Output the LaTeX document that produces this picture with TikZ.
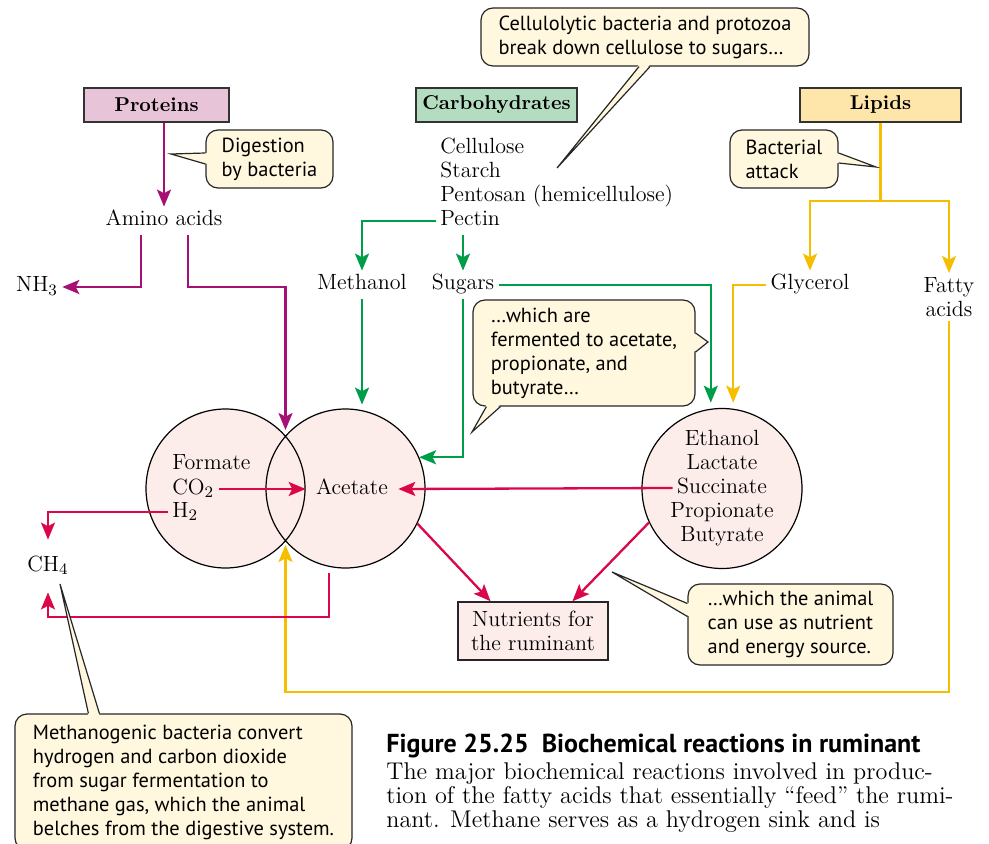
\documentclass[tikz,border=0pt]{standalone}
\usepackage{fontspec}
\usepackage{tikz}
\usetikzlibrary{arrows.meta,calc,positioning}
\newfontfamily\notefont{PT Sans}
\definecolor{protcol}{RGB}{166,16,116}
\definecolor{carbcol}{RGB}{0,158,72}
\definecolor{lipcol}{RGB}{246,190,0}
\definecolor{redcol}{RGB}{218,8,72}
\definecolor{protfill}{RGB}{232,196,216}
\definecolor{carbfill}{RGB}{180,220,192}
\definecolor{lipfill}{RGB}{254,230,170}
\definecolor{notefill}{RGB}{255,248,222}
\definecolor{poolfill}{RGB}{252,236,234}

\begin{document}
\begin{tikzpicture}[x=0.5pt,y=-0.5pt,>={Stealth[length=8.5pt,width=7pt,inset=1.8pt]}]
 \tikzstyle{every node}=[font=\fontsize{11}{12}\selectfont]
 \tikzstyle{lbl}=[inner sep=2pt,text height=7.5pt,text depth=2.5pt]
 \tikzstyle{headbox}=[draw=black!80,line width=0.7pt,inner xsep=2pt,minimum width=80.5pt,minimum height=17pt,font=\bfseries\fontsize{10}{12}\selectfont]
 \tikzstyle{note}=[draw=black!85,fill=notefill,line width=0.6pt,rounded corners=6pt,align=left,font=\notefont\fontsize{10.2}{12}\selectfont]
 \tikzstyle{tail}=[draw=black!85,line width=0.6pt]
 \tikzstyle{pool}=[circle,fill=poolfill,minimum size=79.5pt,inner sep=0pt]
 \tikzstyle{flow}=[->,line width=1.15pt]
 \useasboundingbox (0,0) rectangle (989,844);

 % the three food classes
 \node[headbox,fill=protfill,minimum width=72.5pt] (prot) at (156.5,105) {Proteins};
 \node[headbox,fill=carbfill] (carb) at (496.5,105) {Carbohydrates};
 \node[headbox,fill=lipfill] (lip) at (880.5,105) {Lipids};

 % products
 \node[lbl] (amino) at (164,221) {Amino acids};
 \node[lbl] (nh3) at (37,287) {NH$_3$};
 \node[lbl,anchor=west] (cellu) at (436,149) {Cellulose};
 \node[lbl,anchor=west] (starch) at (436,173) {Starch};
 \node[lbl,anchor=west] (pento) at (436,197) {Pentosan (hemicellulose)};
 \node[lbl,anchor=west] (pectin) at (436,221) {Pectin};
 \node[lbl] (meth) at (362,285) {Methanol};
 \node[lbl] (sug) at (463,285) {Sugars};
 \node[lbl] (glyc) at (810,285) {Glycerol};
 \node[align=center,inner sep=2pt] (fatty) at (949,297) {Fatty\\acids};

 % fermentation pools
 \node[pool] (formc) at (225.5,488.5) {};
 \node[pool] (acec) at (345.5,488.5) {};
 \node[pool,draw,line width=0.6pt,minimum size=80pt] (etc) at (722,488.5) {};
 \draw[line width=0.6pt] (formc.center) circle[radius=79.5] (acec.center) circle[radius=79.5];
 \coordinate (ovtop) at (285.5,436);
 \coordinate (ovbot) at (285.5,541);

 \node[lbl,anchor=west] (form) at (168,464) {Formate};
 \node[lbl,anchor=west] (co2) at (168,489) {CO$_2$};
 \node[lbl,anchor=west] (h2) at (168,512) {H$_2$};
 \node[lbl,inner sep=5pt] (ace) at (352,489) {Acetate};
 \node[lbl] (eth) at (722,440) {Ethanol};
 \node[lbl] (lac) at (722,464) {Lactate};
 \node[lbl] (suc) at (722,488) {Succinate};
 \node[lbl] (pro) at (722,512) {Propionate};
 \node[lbl] (but) at (722,536) {Butyrate};
 \node[lbl,inner ysep=8pt] (ch4) at (48,566) {CH$_4$};
 \node[draw=black!85,line width=0.7pt,fill=poolfill,align=center,minimum width=75pt,minimum height=29pt] (nutr) at (533,631) {Nutrients for\\the ruminant};

 % protein arrows
 \draw[flow,protcol] (prot.south -| amino.north) -- (amino.north);
 \draw[flow,protcol] ($(amino.south)+(-23,0)$) |- (nh3.east);
 \draw[flow,protcol,shorten >=3pt] ($(amino.south)+(24,0)$) |- (nh3 -| ovtop) -- (ovtop);

 % carbohydrate arrows
 \draw[flow,carbcol] (pectin.west) -| (meth.north);
 \draw[flow,carbcol] (pectin.south -| sug.north) -- (sug.north);
 \draw[flow,carbcol,shorten >=2pt] (meth.south) -- (meth.south |- acec.north);
 \draw[flow,carbcol] (sug.south) |- (acec.23);
 \draw[flow,carbcol,shorten >=3pt] (sug.east) -| (etc.98);

 % lipid arrows
 \coordinate (lipsplit) at ($(lip.south)+(0,78)$);
 \draw[lipcol,line width=1.15pt] (lip.south) -- (lipsplit);
 \draw[flow,lipcol] (lipsplit) -| (glyc.north);
 \draw[flow,lipcol] (lipsplit) -| (fatty.north);
 \draw[flow,lipcol,shorten >=3pt] (glyc.west) -| (etc.82);
 \draw[flow,lipcol,shorten >=2pt] (fatty.south) |- ($(ovbot)+(0,151)$) -- (ovbot);

 % fermentation arrows
 \draw[flow,redcol] (co2.east) -- (ace.west);
 \draw[flow,redcol] (suc.west) -- (ace.east);
 \draw[flow,redcol] (h2.west) -| (ch4.north);
 \draw[flow,redcol,shorten <=3pt] (acec.258) -- ++(0,50) -| (ch4.south);
 \draw[flow,redcol] (acec.-26) -- (nutr.145);
 \draw[flow,redcol] (etc.205) -- (nutr.37);

 % callouts
 \node[note,minimum width=164pt,minimum height=29pt] (cellc) at (645,37) {Cellulolytic bacteria and protozoa\\break down cellulose to sugars…};
 \coordinate (celltip) at (557,168);
 \fill[notefill] ($(cellc.south)+(-6,-2)$) -- (celltip) -- ($(cellc.south)+(5,-2)$) -- cycle;
 \draw[tail] ($(cellc.south)+(-6,0)$) -- (celltip) -- ($(cellc.south)+(5,0)$);

 \node[note,minimum width=63.5pt,minimum height=29pt] (digc) at (269.5,159) {Digestion\\by bacteria};
 \coordinate (digtip) at (171,154);
 \fill[notefill] ($(digc.west)+(2,-6)$) -- (digtip) -- ($(digc.west)+(2,5)$) -- cycle;
 \draw[tail] ($(digc.west)+(0,-6)$) -- (digtip) -- ($(digc.west)+(0,5)$);

 \node[note,minimum width=54pt,minimum height=29pt] (bactc) at (784,159) {Bacterial\\attack};
 \coordinate (bacttip) at (876,167);
 \fill[notefill] ($(bactc.east)+(-2,-6)$) -- (bacttip) -- ($(bactc.east)+(-2,4)$) -- cycle;
 \draw[tail] ($(bactc.east)+(0,-6)$) -- (bacttip) -- ($(bactc.east)+(0,4)$);

 \node[note,minimum width=111pt,minimum height=53pt] (fermc) at (584,353) {…which are\\fermented to acetate,\\propionate, and\\butyrate…};
 \coordinate (fermtip) at (472,432);
 \coordinate (fermtipb) at (708,342);
 \fill[notefill] ($(fermc.south west)+(14,-2)$) -- (fermtip) -- ($(fermc.south west)+(28,-2)$) -- cycle;
 \draw[tail] ($(fermc.south west)+(14,0)$) -- (fermtip) -- ($(fermc.south west)+(28,0)$);
 \fill[notefill] ($(fermc.east)+(-2,-20)$) -- (fermtipb) -- ($(fermc.east)+(-2,-1)$) -- cycle;
 \draw[tail] ($(fermc.east)+(0,-20)$) -- (fermtipb) -- ($(fermc.east)+(0,-1)$);

 \node[note,minimum width=102.5pt,minimum height=40.5pt] (animc) at (790.5,624.5) {…which the animal\\can use as nutrient\\and energy source.};
 \coordinate (animtip) at (612,572);
 \fill[notefill] ($(animc.west)+(2,-21)$) -- (animtip) -- ($(animc.west)+(2,-8)$) -- cycle;
 \draw[tail] ($(animc.west)+(0,-21)$) -- (animtip) -- ($(animc.west)+(0,-8)$);

 \node[note,minimum width=168.5pt,minimum height=68pt] (methc) at (183.5,782) {Methanogenic bacteria convert\\hydrogen and carbon dioxide\\from sugar fermentation to\\methane gas, which the animal\\belches from the digestive system.};
 \coordinate (methtip) at (60,584);
 \fill[notefill] ($(methc.north west)+(74,2)$) -- (methtip) -- ($(methc.north west)+(85,2)$) -- cycle;
 \draw[tail] ($(methc.north west)+(74,0)$) -- (methtip) -- ($(methc.north west)+(85,0)$);

 % caption
 \node[anchor=west,inner sep=0pt,font=\notefont\bfseries\fontsize{13}{13}\selectfont] (capt) at (386,746) {Figure 25.25\enspace Biochemical reactions in ruminant};
 \node[anchor=north west,inner sep=0pt,align=left,font=\fontsize{12.1}{12}\selectfont] (captb) at (386,762) {The major biochemical reactions involved in produc-\\tion of the fatty acids that essentially ``feed'' the rumi-\\nant. Methane serves as a hydrogen sink and is};
\end{tikzpicture}
\end{document}
